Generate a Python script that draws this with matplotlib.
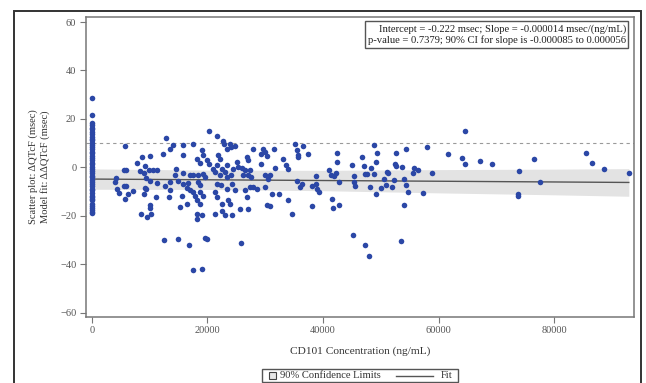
import matplotlib
matplotlib.use("Agg")
import matplotlib.pyplot as plt
from matplotlib.patches import Rectangle
from matplotlib.lines import Line2D
import numpy as np

plt.rcParams['font.family'] = ['Liberation Serif', 'DejaVu Serif']

# ---- data ----
zero_conc_dqtcf = [28.8, 21.8, 18.3, 17.6, 16.4, 15.8, 14.5, 13.9, 12.7, 11.8, 11.2, 10.1, 9.4, 8.3,
                   7.7, 6.5, 5.9, 4.6, 3.8, 3.1, 2.0, 1.4, 0.2, -0.7, -1.6, -2.2, -3.5, -4.1, -5.3,
                   -5.9, -7.0, -7.6, -8.9, -9.5, -10.4, -11.6, -12.2, -13.1, -13.6, -15.0, -15.8,
                   -16.9, -17.5, -18.4, -18.9]

conc = [4030, 4150, 4330, 4670, 5640, 5990, 5640, 5990, 5810, 5810, 6230, 7090, 7890, 8650, 8410,
        9270, 9100, 9340, 9220, 9390, 9100, 8580, 9520, 10210, 10090, 10140, 10140, 9910, 10600, 10140,
        # 10k-24k
        20350, 21620, 22660, 22890, 12850, 14010, 15850, 17470, 13550, 12390, 15850, 19030, 19310,
        18170, 19900, 20350, 18740, 21900, 22200, 21620, 22490, 23460, 23060, 21040, 11350, 14580,
        15850, 17010, 17580, 18440, 19310, 19600, 21330, 22200, 14410, 14990, 13550, 11350, 15850,
        16710, 18440, 18740, 21620, 22320, 12680, 13550, 16430, 17010, 17580, 17870, 18740, 19310,
        21330, 23360, 11120, 13420, 15570, 18170, 18740, 21620, 22490, 23630, 15280, 16430, 18170,
        19030, 21330, 22490, 23060,
        # 23k-37k
        23930, 24790, 24100, 23360, 35170, 35470, 35740, 35640, 27960, 29690, 29980, 30280, 31590,
        29290, 33150, 33560, 34010, 26820, 26990, 25090, 25360, 24500, 25950, 26520, 27390, 24100,
        26230, 27090, 27560, 29980, 30850, 30550, 31710, 29290, 23360, 35470, 36330, 36040, 24220,
        24790, 26520, 27390, 27960, 28540, 29980, 26820, 31140, 32400, 34010, 23930, 25660, 27090,
        30280, 30850, 34600, 24220,
        # low outliers
        12460, 14930, 16890, 17520, 19030, 19600, 19900, 25880, 18170,
        # 36k-46k
        37370, 36500, 38160, 41750, 42730, 41570, 38160, 38800, 38980, 39370, 38800, 41350, 41920,
        41000, 42320, 42780, 45320, 45500, 45430, 45030, 42440, 42380, 45260,
        # 46k-70k
        64630, 64120, 64630, 67230, 61640, 57950, 54320, 52700, 49410, 48890, 46760, 49130, 47160,
        48370, 47200, 47600, 48840, 51040, 51320, 52470, 52590, 53740, 55760, 55640, 56500, 58920,
        50620, 52250, 54080, 54320, 54780, 57320, 50970, 51900, 50100, 49130, 48150, 54080, 47330,
        48030, 53510,
        # >69k
        92900, 88680, 86600, 85570, 77500, 76470, 73870, 73750, 73750, 69200]

dqtcf = [-6.1, -4.3, -9.0, -10.5, -1.0, -1.2, -7.8, -7.8, 8.8, -13.2, -11.0, -9.9, 1.7, 4.5, -1.4,
         0.4, -2.3, -4.3, -8.4, -9.0, -10.9, -19.4, -20.5, -19.3, -15.4, -16.6, 4.7, -1.2, -1.0, -5.4,
         14.9, 12.9, 11.1, 9.8, 12.1, 9.4, 9.4, 9.8, 7.4, 5.6, 5.2, 7.0, 5.2,
         3.6, 2.9, 1.5, 1.9, 5.0, 3.6, 0.8, -0.5, 0.8, -1.9, -0.5, -1.2, -0.5,
         -2.2, -3.3, -3.3, -3.0, -2.6, -4.0, -1.9, -3.3, -3.3, -5.4, -6.1, -6.3, -6.7,
         -6.3, -6.1, -7.4, -6.7, -7.4, -7.8, -9.5, -8.5, -9.5, -10.2, -11.6, -10.2, -11.6,
         -10.2, -8.8, -12.3, -12.3, -11.6, -13.6, -15.0, -12.3, -15.0, -13.6, -16.4, -15.0, -19.1,
         -19.8, -19.1, -17.8, -19.8,
         9.8, 8.8, 8.4, 7.7, 9.8, 7.0, 5.2, 4.3, 7.4, 7.7, 6.3, 4.7, 7.7,
         5.6, 3.6, 1.1, -0.5, 4.3, 2.9, 2.2, 0.1, -0.5, -0.3, -1.2, -1.2, -3.3,
         -3.3, -3.3, -4.0, -3.3, -3.3, -4.7, -0.3, 1.5, -4.0, -5.4, -6.7, -8.1, -6.7,
         -9.5, -9.5, -8.1, -8.1, -8.8, -8.1, -12.3, -10.9, -10.9, -13.6, -15.0, -17.1, -17.1,
         -15.7, -16.0, -19.1, -19.8,
         -30.0, -29.6, -32.2, -42.5, -42.1, -29.2, -29.4, -31.2, -21.2,
         5.6, 9.0, -16.0, -16.8, -15.6, -13.1, -7.7, -7.0, -9.1, -10.2, -3.4, -3.3, -3.7,
         -1.0, -2.3, -6.1, -6.1, -7.8, -3.7, 0.9, 2.2, 5.9, -27.8,
         15.0, 3.7, 1.5, 2.5, 5.4, 8.4, 7.6, 5.9, 5.9, 9.1, 4.1, 2.1, 0.4,
         -0.4, -2.6, -2.6, -2.6, -1.9, -2.1, 1.5, 0.4, 0.1, -0.3, -2.2, -1.2, -2.1,
         -4.7, -5.1, -4.7, -7.4, -10.0, -10.6, -7.4, -8.1, -8.5, -10.9, -8.1, -15.3, -32.1,
         -36.5, -30.3,
         -2.35, -0.7, 1.8, 5.8, -6.1, 3.3, -1.5, -10.9, -11.7, 1.4]

fit_x = [0, 20000, 40000, 60000, 80000, 92900]
fit_y = [-4.8, -5.1, -5.4, -5.7, -6.0, -6.2]
ci_lower = [-9.0, -9.1, -9.6, -10.5, -11.3, -11.9]
ci_upper = [-0.6, -1.1, -1.2, -0.9, -0.7, -0.5]

ref_line = 10
annot = ("Intercept = -0.222 msec; Slope = -0.000014 msec/(ng/mL)\n"
         "p-value = 0.7379; 90% CI for slope is -0.000085 to 0.000056")

# ---- figure ----
W, H = 646, 383
fig = plt.figure(figsize=(W / 100, H / 100), dpi=100)
ax = fig.add_axes([86 / W, 1 - 316.7 / H, (634 - 86) / W, (316.7 - 16.7) / H])

ax.fill_between(fit_x, ci_lower, ci_upper, color='#e3e3e3', lw=0, zorder=1)
ax.axhline(ref_line, color='#9a9a9a', lw=0.8, ls=(0, (3, 3)), zorder=1.5)
ax.plot(fit_x, fit_y, color='#555555', lw=1.0, zorder=2)

blue = '#2b47a6'
ax.scatter([0] * len(zero_conc_dqtcf), zero_conc_dqtcf, s=16, color=blue, lw=0, zorder=3)
ax.scatter(conc, dqtcf, s=16, color=blue, lw=0, zorder=3)

ax.set_xlim(-990, 93800)
ax.set_ylim(-61.6, 62.2)
ax.set_xticks([0, 20000, 40000, 60000, 80000])
ax.set_yticks([-60, -40, -20, 0, 20, 40, 60])
ax.tick_params(direction='out', length=4, width=0.8, color='#777777', labelsize=7.5,
               labelcolor='#555555', pad=3)
for sp in ax.spines.values():
    sp.set_color('#777777')
    sp.set_linewidth(1.1)

ax.set_xlabel("CD101 Concentration (ng/mL)", fontsize=8.2, color='#333333', labelpad=8)
fig.text(39 / W, 1 - 166.7 / H, "Scatter plot: ΔQTcF (msec)\nModel fit: ΔΔQTcF (msec)",
         rotation=90, ha='center', va='center', multialignment='center', fontsize=7.6,
         color='#333333', linespacing=1.25)

ax.text(0.985, 0.975, annot, transform=ax.transAxes, ha='right', va='top', fontsize=7.7,
        color='#222222', linespacing=1.2,
        bbox=dict(boxstyle='square,pad=0.25', facecolor='white', edgecolor='#555555', lw=1.0))

# outer frame
fig.add_artist(Rectangle((14 / W, -0.02), (641 - 14) / W, (H - 11) / H + 0.02,
                         transform=fig.transFigure, fill=False, edgecolor='#333333', lw=1.4))

# legend
fig.add_artist(Rectangle((261.5 / W, 1 - 382 / H), (458 - 261.5) / W, 13 / H,
                         transform=fig.transFigure, facecolor='white', edgecolor='#555555', lw=1.0))
fig.add_artist(Rectangle((269 / W, 1 - 378.5 / H), 6.5 / W, 6.5 / H,
                         transform=fig.transFigure, facecolor='#e8e8e8', edgecolor='#444444', lw=0.8))
fig.text(280 / W, 1 - 375.5 / H, "90% Confidence Limits", ha='left', va='center', fontsize=7.6,
         color='#333333')
fig.add_artist(Line2D([396 / W, 433 / W], [1 - 375.5 / H, 1 - 375.5 / H],
                      transform=fig.transFigure, color='#555555', lw=1.0))
fig.text(441 / W, 1 - 375.5 / H, "Fit", ha='left', va='center', fontsize=7.6, color='#333333')

fig.savefig("out.png", dpi=100)
